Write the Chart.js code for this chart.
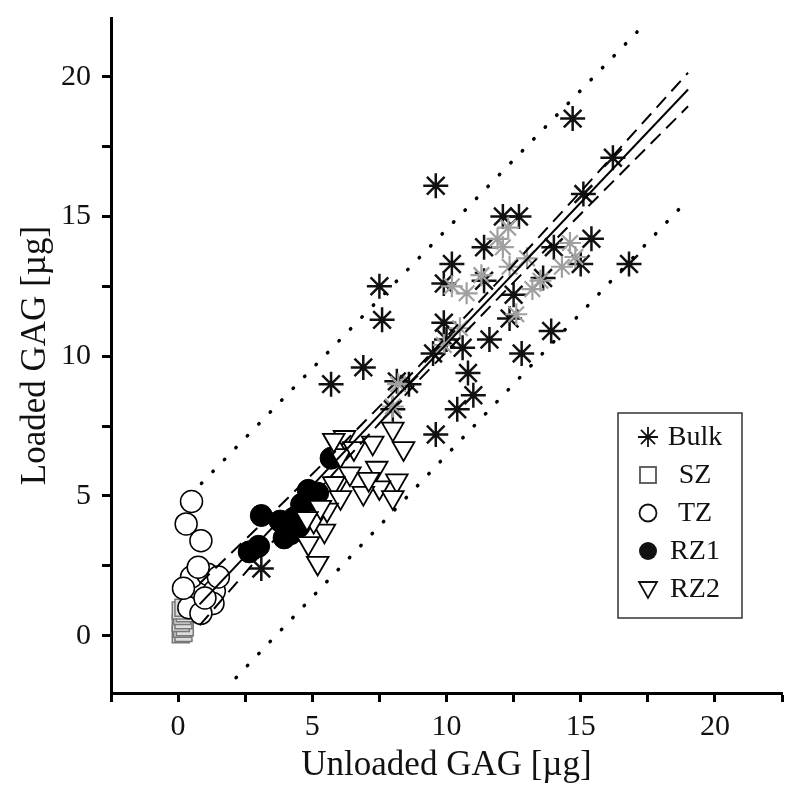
<!DOCTYPE html>
<html>
<head>
<meta charset="utf-8">
<script src="https://cdn.jsdelivr.net/npm/chart.js"></script>
<style>
  html, body { margin: 0; padding: 0; background: #fff; }
  #wrap { width: 800px; height: 801px; }
</style>
</head>
<body>
<div id="wrap"><canvas id="chart"></canvas></div>
<script>
// data, [unloaded, loaded] in µg
const bulk = [
  [14.7, 18.5], [9.6, 16.1], [16.2, 17.1], [15.1, 15.8], [12.1, 15.0], [12.7, 15.0],
  [15.4, 14.2], [16.8, 13.3], [7.5, 12.5], [7.6, 11.3], [10.2, 13.3], [11.4, 13.9],
  [9.9, 12.6], [9.9, 11.2], [11.4, 12.7], [13.9, 10.9], [12.8, 10.1], [11.6, 10.6],
  [12.35, 11.35], [10.8, 9.4], [6.9, 9.6], [9.5, 10.1], [5.7, 9.0], [8.15, 9.1],
  [9.6, 7.2], [10.4, 8.1], [11.0, 8.6], [8.0, 8.1], [3.1, 2.4], [15.0, 13.3],
  [13.6, 12.8], [12.5, 12.2], [10.6, 10.3], [8.6, 9.0], [10.0, 10.6], [14.0, 13.9]
];
const bulkGray = [
  [12.1, 13.9], [12.35, 13.2], [13.2, 12.4], [13.5, 12.7], [14.6, 14.05], [14.8, 13.55],
  [10.75, 12.25], [11.9, 14.2], [12.6, 11.5], [8.0, 8.2], [8.2, 9.0], [10.2, 12.5],
  [13.0, 13.5], [11.3, 12.9], [14.3, 13.2], [12.3, 14.6], [9.9, 10.4], [10.5, 11.0]
];
const sz = [
  [0.1, 0.05], [0.2, 0.1], [0.15, 0.25], [0.25, 0.3], [0.1, 0.45],
  [0.2, 0.55], [0.15, 0.7], [0.25, 0.8], [0.1, 0.9], [0.2, 1.0]
];
const tz = [
  [0.5, 4.8], [0.3, 4.0], [0.85, 3.4], [0.4, 1.0], [0.75, 1.7], [0.5, 2.1],
  [1.1, 2.2], [1.35, 1.6], [1.3, 1.15], [0.85, 0.8], [0.75, 2.45], [0.2, 1.7],
  [1.5, 2.1], [1.0, 1.35]
];
const rz1 = [
  [2.65, 3.0], [3.0, 3.2], [3.1, 4.3], [3.8, 4.1], [4.2, 3.65], [3.95, 3.5],
  [4.3, 4.2], [4.6, 4.7], [4.85, 5.2], [5.0, 4.85], [5.2, 5.1], [4.5, 3.9], [5.7, 6.35]
];
const rz2 = [
  [6.2, 7.1], [6.05, 6.45], [6.55, 6.7], [7.25, 6.9], [8.0, 7.4], [8.4, 6.7],
  [7.4, 6.0], [8.15, 5.55], [7.5, 5.3], [6.9, 5.1], [5.95, 5.45], [8.0, 4.95],
  [6.4, 5.8], [4.85, 3.3], [5.2, 2.6], [5.45, 3.75], [5.05, 4.1], [5.8, 5.45],
  [6.05, 4.95], [5.55, 4.5], [7.1, 5.6], [5.3, 4.6], [4.8, 4.2], [5.8, 7.0]
];

// regression line, 95% confidence band and prediction band
const fitLine = [[0.8, 1.12], [19, 19.54]];
const confUpper = [[0.8, 1.87], [3, 3.9], [6, 6.73], [9, 9.67], [12, 12.75], [15, 15.89], [19, 20.14]];
const confLower = [[0.8, 0.37], [3, 2.8], [6, 6.03], [9, 9.17], [12, 12.15], [15, 15.09], [19, 18.94]];
const predUpper = [[0.87, 5.45], [17.1, 21.6]];
const predLower = [[2.16, -1.5], [18.8, 15.4]];

const legendItems = ['Bulk', 'SZ', 'TZ', 'RZ1', 'RZ2'];

function pts(arr) {
  return arr.map(p => ({ x: p[0], y: p[1] }));
}

function lineSet(arr, dash, width, cap) {
  return {
    type: 'line', data: pts(arr), showLine: true, pointRadius: 0,
    borderColor: '#000', borderWidth: width, borderDash: dash,
    borderCapStyle: cap || 'butt', fill: false, tension: 0, order: 0
  };
}

// legend drawn inside the plot, like the original
const boxLegend = {
  id: 'boxLegend',
  afterDraw(chart) {
    const ctx = chart.ctx;
    const left = 618, top = 413, w = 124, h = 205;
    ctx.save();
    ctx.strokeStyle = '#333';
    ctx.lineWidth = 1.5;
    ctx.strokeRect(left, top, w, h);
    ctx.font = '28px "Liberation Serif", "Times New Roman", serif';
    ctx.fillStyle = '#111';
    ctx.textAlign = 'center';
    ctx.textBaseline = 'middle';
    const sx = 648;
    legendItems.forEach((label, i) => {
      const cy = 437 + i * 38;
      ctx.strokeStyle = '#111';
      ctx.lineWidth = 1.8;
      ctx.beginPath();
      if (i === 0) {
        const r = 10;
        for (let k = 0; k < 4; k++) {
          const a = k * Math.PI / 4;
          ctx.moveTo(sx - r * Math.cos(a), cy - r * Math.sin(a));
          ctx.lineTo(sx + r * Math.cos(a), cy + r * Math.sin(a));
        }
        ctx.stroke();
      } else if (i === 1) {
        ctx.strokeStyle = '#555';
        ctx.strokeRect(sx - 8, cy - 8, 16, 16);
      } else if (i === 2) {
        ctx.arc(sx, cy, 8.5, 0, Math.PI * 2);
        ctx.stroke();
      } else if (i === 3) {
        ctx.arc(sx, cy, 9, 0, Math.PI * 2);
        ctx.fill();
      } else {
        ctx.moveTo(sx - 9, cy - 7);
        ctx.lineTo(sx + 9, cy - 7);
        ctx.lineTo(sx, cy + 9);
        ctx.closePath();
        ctx.stroke();
      }
      ctx.fillText(label, 695, cy + 1);
    });
    ctx.restore();
  }
};

const serif = '"Liberation Serif", "Times New Roman", serif';

new Chart(document.getElementById('chart'), {
  type: 'scatter',
  data: {
    datasets: [
      lineSet(fitLine, [], 2),
      lineSet(confUpper, [14, 8], 2),
      lineSet(confLower, [14, 8], 2),
      lineSet(predUpper, [0.5, 16], 3.5, 'round'),
      lineSet(predLower, [0.5, 16], 3.5, 'round'),
      {
        label: 'RZ2', data: pts(rz2), pointStyle: 'triangle', rotation: 180,
        pointRadius: 12.5, borderColor: '#000', backgroundColor: '#fff', borderWidth: 1.8, order: 2
      },
      {
        label: 'RZ1', data: pts(rz1), pointStyle: 'circle',
        pointRadius: 11, borderColor: '#000', backgroundColor: '#000', borderWidth: 1, order: 3
      },
      {
        label: 'TZ', data: pts(tz), pointStyle: 'circle',
        pointRadius: 11, borderColor: '#000', backgroundColor: '#fff', borderWidth: 1.5, order: 4
      },
      {
        label: 'SZ', data: pts(sz), pointStyle: 'rect',
        pointRadius: 12, borderColor: '#777', backgroundColor: '#ddd', borderWidth: 1.5, order: 5
      },
      {
        label: 'Bulk gray', data: pts(bulkGray), pointStyle: 'star',
        pointRadius: 11, borderColor: '#a0a0a0', borderWidth: 2.2, order: 6
      },
      {
        label: 'Bulk', data: pts(bulk), pointStyle: 'star',
        pointRadius: 12.5, borderColor: '#111', borderWidth: 2.5, order: 7
      }
    ]
  },
  options: {
    responsive: true,
    maintainAspectRatio: false,
    animation: false,
    layout: { autoPadding: false, padding: { left: 0, top: 18, right: 18, bottom: 0 } },
    plugins: { legend: { display: false }, tooltip: { enabled: false } },
    scales: {
      x: {
        type: 'linear', min: -2.5, max: 22.5,
        afterFit(scale) {
          scale.height = 108;
          scale.paddingLeft = 0; scale.paddingRight = 0;
        },
        border: { display: true, width: 3, color: '#000' },
        grid: { drawOnChartArea: false, drawTicks: true, tickLength: 9, tickWidth: 3, tickColor: '#000' },
        ticks: {
          stepSize: 2.5, includeBounds: false, autoSkip: false, maxRotation: 0, padding: 7,
          color: '#111', font: { family: serif, size: 30 },
          callback: v => (v % 5 === 0 ? v : '')
        },
        title: {
          display: true, text: 'Unloaded GAG [µg]', color: '#111',
          font: { family: serif, size: 35 }, padding: { top: 0, bottom: 14 }
        }
      },
      y: {
        type: 'linear', min: -2.05, max: 22.1,
        afterFit(scale) {
          scale.width = 111;
          scale.paddingTop = 0; scale.paddingBottom = 0;
        },
        border: { display: true, width: 3, color: '#000' },
        grid: { drawOnChartArea: false, drawTicks: true, tickLength: 9, tickWidth: 3, tickColor: '#000' },
        ticks: {
          stepSize: 2.5, includeBounds: false, autoSkip: false, padding: 11,
          color: '#111', font: { family: serif, size: 30 },
          callback: v => (v % 5 === 0 ? v : '')
        },
        title: {
          display: true, text: 'Loaded GAG [µg]', color: '#111',
          font: { family: serif, size: 35 }, padding: { top: 15, bottom: 0 }
        }
      }
    }
  },
  plugins: [boxLegend]
});
</script>
</body>
</html>
